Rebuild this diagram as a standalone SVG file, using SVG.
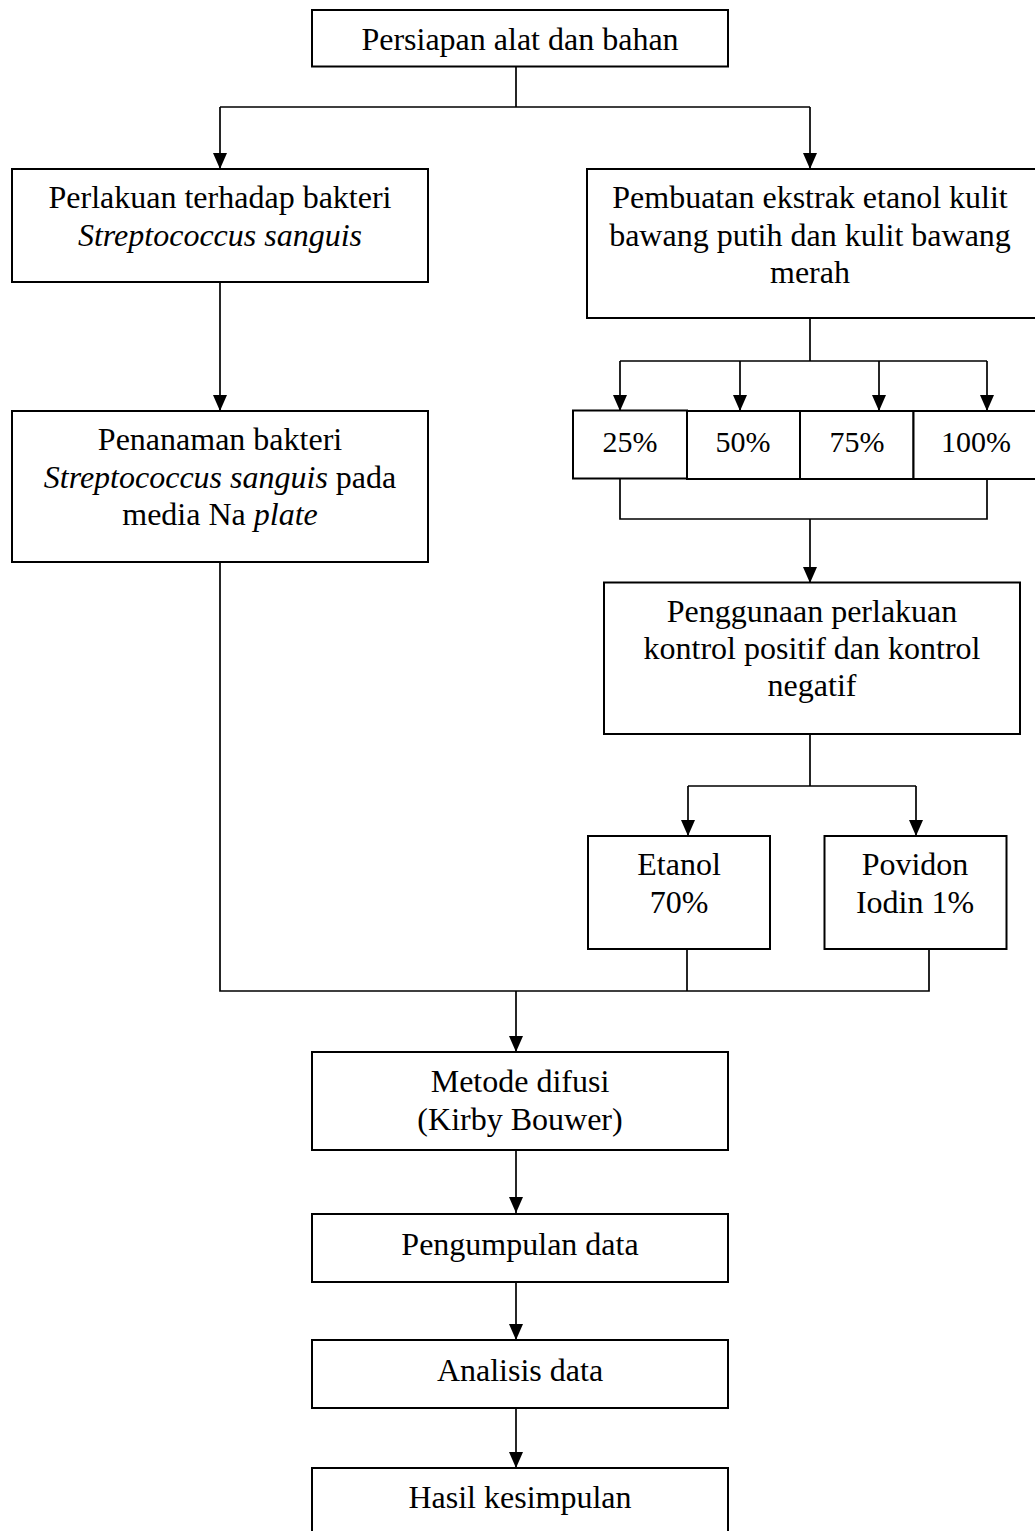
<svg xmlns="http://www.w3.org/2000/svg" width="1035" height="1531" viewBox="0 0 1035 1531">
<style>
.box{fill:#fff;stroke:#000;stroke-width:2}
.t{font-family:"Liberation Serif","Times New Roman",serif;font-size:32px;fill:#000;text-anchor:middle}
.p{font-size:30px}
.i{font-style:italic}
.c{fill:none;stroke:#000;stroke-width:1.7}
.a{marker-end:url(#ah)}
</style>
<defs>
<marker id="ah" markerUnits="userSpaceOnUse" markerWidth="16" markerHeight="14" refX="16" refY="7" orient="auto">
<path d="M0,0 L16,7 L0,14 z" fill="#000"/>
</marker>
</defs>
<rect width="1035" height="1531" fill="#fff"/>
<g id="connectors">
<path class="c" d="M516,66 V107 M220,107 H810"/>
<path class="c a" d="M220,107 V169"/>
<path class="c a" d="M810,107 V169"/>
<path class="c a" d="M220,282 V411"/>
<path class="c" d="M810,318 V361 M620,361 H987"/>
<path class="c a" d="M620,361 V411"/>
<path class="c a" d="M740,361 V411"/>
<path class="c a" d="M879,361 V411"/>
<path class="c a" d="M987,361 V411"/>
<path class="c" d="M620,478 V519 H987 V478"/>
<path class="c a" d="M810,519 V583"/>
<path class="c" d="M810,734 V786 M688,786 H916"/>
<path class="c a" d="M688,786 V836"/>
<path class="c a" d="M916,786 V836"/>
<path class="c" d="M220,562 V991 H929 V949 M687,949 V991"/>
<path class="c a" d="M516,991 V1052"/>
<path class="c a" d="M516,1150 V1213"/>
<path class="c a" d="M516,1280 V1340"/>
<path class="c a" d="M516,1408 V1468"/>
</g>
<g id="n1"><rect class="box" x="312" y="10" width="416" height="56.5"/><text class="t" x="520" y="50">Persiapan alat dan bahan</text></g>
<g id="n2"><rect class="box" x="12" y="169" width="416" height="113"/><text class="t" x="220" y="208">Perlakuan terhadap bakteri</text><text class="t i" x="220" y="246">Streptococcus sanguis</text></g>
<g id="n3"><rect class="box" x="587" y="169" width="460" height="149"/><text class="t" x="810" y="208">Pembuatan ekstrak etanol kulit</text><text class="t" x="810" y="246">bawang putih dan kulit bawang</text><text class="t" x="810" y="283">merah</text></g>
<g id="n4"><rect class="box" x="12" y="411" width="416" height="151"/><text class="t" x="220" y="450">Penanaman bakteri</text><text class="t" x="220" y="488"><tspan class="i">Streptococcus sanguis</tspan> pada</text><text class="t" x="220" y="525">media Na <tspan class="i">plate</tspan></text></g>
<g id="n5"><rect class="box" x="573" y="410.5" width="114" height="68"/><text class="t p" x="630" y="452">25%</text></g>
<g id="n6"><rect class="box" x="687" y="411" width="113" height="68"/><text class="t p" x="743" y="452">50%</text></g>
<g id="n7"><rect class="box" x="800" y="411" width="113.5" height="68"/><text class="t p" x="857" y="452">75%</text></g>
<g id="n8"><rect class="box" x="913.5" y="411" width="130" height="68"/><text class="t p" x="976" y="452">100%</text></g>
<g id="n9"><rect class="box" x="604" y="582.5" width="416" height="151.5"/><text class="t" x="812" y="622">Penggunaan perlakuan</text><text class="t" x="812" y="659">kontrol positif dan kontrol</text><text class="t" x="812" y="696">negatif</text></g>
<g id="n10"><rect class="box" x="588" y="836" width="182" height="113"/><text class="t" x="679" y="875">Etanol</text><text class="t" x="679" y="913">70%</text></g>
<g id="n11"><rect class="box" x="824.5" y="836" width="182" height="113"/><text class="t" x="915" y="875">Povidon</text><text class="t" x="915" y="913">Iodin 1%</text></g>
<g id="n12"><rect class="box" x="312" y="1052" width="416" height="98"/><text class="t" x="520" y="1092">Metode difusi</text><text class="t" x="520" y="1130">(Kirby Bouwer)</text></g>
<g id="n13"><rect class="box" x="312" y="1214" width="416" height="68"/><text class="t" x="520" y="1255">Pengumpulan data</text></g>
<g id="n14"><rect class="box" x="312" y="1340" width="416" height="68"/><text class="t" x="520" y="1381">Analisis data</text></g>
<g id="n15"><rect class="box" x="312" y="1468" width="416" height="80"/><text class="t" x="520" y="1508">Hasil kesimpulan</text></g>
</svg>
